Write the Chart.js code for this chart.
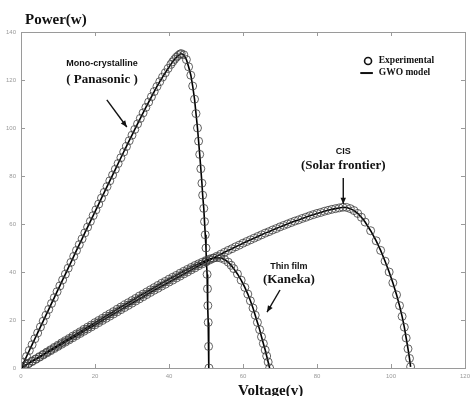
<!DOCTYPE html>
<html>
<head>
<meta charset="utf-8">
<script src="https://cdn.jsdelivr.net/npm/chart.js@4/dist/chart.umd.min.js"></script>
<style>
  body { margin: 0; background: #fff; }
  canvas { display: block; }
</style>
</head>
<body>
<canvas id="pvChart" width="475" height="396"></canvas>
<script>
// Voltage (V) / Power (W) points
const monoV = [0, 0.75, 1.5, 2.25, 3, 3.75, 4.5, 5.25, 6, 6.75, 7.5, 8.25, 9, 9.75, 10.5, 11.25, 12, 12.75, 13.5, 14.25, 15, 15.75, 16.5, 17.25, 18, 18.75, 19.5, 20.25, 21, 21.75, 22.5, 23.25, 24, 24.75, 25.5, 26.25, 27, 27.75, 28.5, 29.25, 30, 30.75, 31.5, 32.25, 33, 33.75, 34.5, 35.25, 36, 36.75, 37.5, 38.25, 39, 39.75, 40.5, 41, 41.5, 42, 42.5, 43, 43.3, 44, 44.7, 45.3, 45.9, 46.4, 46.9, 47.3, 47.7, 48, 48.3, 48.6, 48.9, 49.1, 49.4, 49.6, 49.8, 50, 50.1, 50.3, 50.4, 50.5, 50.6, 50.7, 50.8];
const monoP = [0, 2.4, 4.8, 7.3, 9.7, 12.2, 14.6, 17.1, 19.5, 22, 24.4, 26.9, 29.3, 31.8, 34.2, 36.7, 39.1, 41.6, 44, 46.5, 49, 51.4, 53.8, 56.3, 58.7, 61.1, 63.5, 65.9, 68.3, 70.8, 73.2, 75.6, 78, 80.4, 82.8, 85.2, 87.6, 90, 92.3, 94.7, 97, 99.4, 101.7, 104, 106.3, 108.6, 110.8, 113, 115.2, 117.3, 119.3, 121.2, 123, 124.8, 126.5, 127.6, 128.6, 129.5, 130.2, 130.8, 131, 130.5, 128.5, 125.5, 122, 117.5, 112, 106, 100, 94.5, 89, 83, 77, 72, 66.5, 61, 55.5, 50, 44.5, 39, 33, 26, 19, 9, 0];

const thinV = [0, 1, 2, 3, 4, 5, 6, 7, 8, 9, 10, 11, 12, 13, 14, 15, 16, 17, 18, 19, 20, 21, 22, 23, 24, 25, 26, 27, 28, 29, 30, 31, 32, 33, 34, 35, 36, 37, 38, 39, 40, 41, 42, 43, 44, 45, 46, 47, 48, 49, 50, 51, 52, 53, 54, 55, 56, 56.8, 57.5, 58.5, 59.5, 60.5, 61.3, 62, 62.7, 63.3, 63.9, 64.5, 65, 65.5, 66, 66.4, 66.8, 67.2];
const thinP = [0, 0.95, 1.9, 2.9, 3.8, 4.75, 5.7, 6.65, 7.6, 8.6, 9.5, 10.5, 11.4, 12.3, 13.3, 14.2, 15.1, 16.1, 17, 17.9, 18.9, 19.8, 20.7, 21.7, 22.6, 23.5, 24.5, 25.4, 26.3, 27.2, 28.1, 29, 30, 30.8, 31.7, 32.6, 33.5, 34.4, 35.3, 36.1, 37, 37.8, 38.6, 39.5, 40.3, 41.1, 41.9, 42.7, 43.4, 44.1, 44.8, 45.4, 45.8, 46, 45.8, 45.2, 44.1, 42.8, 41.4, 39.2, 36.6, 33.6, 30.8, 28, 25, 22, 19, 16, 13, 10.2, 7.5, 5, 2.5, 0];

const cisV = [0, 1, 2, 3, 4, 5, 6, 7, 8, 9, 10, 11, 12, 13, 14, 15, 16, 17, 18, 19, 20, 21, 22, 23, 24, 25, 26, 27, 28, 29, 30, 31, 32, 33, 34, 35, 36, 37, 38, 39, 40, 41, 42, 43, 44, 45, 46, 47, 48, 49, 50, 51, 52, 53, 54, 55, 56, 57, 58, 59, 60, 61, 62, 63, 64, 65, 66, 67, 68, 69, 70, 71, 72, 73, 74, 75, 76, 77, 78, 79, 80, 81, 82, 83, 84, 85, 86, 87, 88, 89, 90, 91, 92, 93, 94.5, 96, 97.2, 98.4, 99.5, 100.5, 101.5, 102.3, 103, 103.6, 104.1, 104.6, 105, 105.3];
const cisP = [0, 0.9, 1.8, 2.7, 3.6, 4.5, 5.4, 6.3, 7.2, 8.1, 9, 9.9, 10.8, 11.7, 12.6, 13.5, 14.4, 15.3, 16.2, 17.1, 18, 18.9, 19.8, 20.7, 21.6, 22.5, 23.4, 24.3, 25.2, 26.1, 27, 27.9, 28.8, 29.7, 30.6, 31.5, 32.4, 33.2, 34.1, 34.9, 35.8, 36.6, 37.5, 38.3, 39.2, 40, 40.9, 41.7, 42.6, 43.4, 44.2, 45, 45.8, 46.6, 47.4, 48.2, 49, 49.7, 50.5, 51.2, 52, 52.7, 53.4, 54.1, 54.8, 55.5, 56.2, 56.8, 57.5, 58.1, 58.8, 59.4, 60, 60.6, 61.2, 61.7, 62.3, 62.8, 63.4, 63.9, 64.4, 64.8, 65.3, 65.7, 66.1, 66.4, 66.7, 67, 66.9, 66.4, 65.6, 64.4, 62.8, 60.8, 57.2, 53, 49, 44.5, 40, 35.5, 30.5, 26, 21.5, 17, 12.5, 8, 4, 0.5];

const xTicks = [0, 20, 40, 60, 80, 100, 120];
const yTicks = [0, 20, 40, 60, 80, 100, 120, 140];

const toPts = (xs, ys) => xs.map((x, i) => ({ x: x, y: ys[i] }));

const expStyle = {
    showLine: false,
    pointStyle: 'circle',
    pointRadius: 4,
    pointBorderWidth: 1,
    pointBorderColor: 'rgba(60,60,60,0.8)',
    pointBackgroundColor: 'rgba(0,0,0,0)'
};
const modelStyle = {
    showLine: true,
    pointRadius: 0,
    borderColor: '#000',
    borderWidth: 1.6,
    tension: 0
};

// frame, inward ticks, titles, notes and legend
const decor = {
    id: 'decor',
    afterDraw(chart) {
        const { ctx, chartArea: a, scales: { x, y } } = chart;
        ctx.save();
        ctx.strokeStyle = '#9a9a9a';
        ctx.lineWidth = 1;
        ctx.strokeRect(a.left + 0.5, a.top + 0.5, a.right - a.left, a.bottom - a.top);
        ctx.beginPath();
        xTicks.forEach(v => {
            const px = Math.round(x.getPixelForValue(v)) + 0.5;
            ctx.moveTo(px, a.bottom); ctx.lineTo(px, a.bottom - 4);
            ctx.moveTo(px, a.top); ctx.lineTo(px, a.top + 4);
        });
        yTicks.forEach(v => {
            const py = Math.round(y.getPixelForValue(v)) + 0.5;
            ctx.moveTo(a.left, py); ctx.lineTo(a.left + 4, py);
            ctx.moveTo(a.right, py); ctx.lineTo(a.right - 4, py);
        });
        ctx.stroke();

        const X = v => x.getPixelForValue(v);
        const Y = v => y.getPixelForValue(v);
        ctx.fillStyle = '#111';
        ctx.textBaseline = 'alphabetic';
        ctx.textAlign = 'left';
        ctx.font = 'bold 15px "Liberation Serif", serif';
        ctx.fillText('Power(w)', 25, 24);
        ctx.fillText('Voltage(v)', 238, 395);

        ctx.textAlign = 'center';
        ctx.textBaseline = 'middle';
        const sans = 'bold 9px "Liberation Sans", Arial, sans-serif';
        const serif = 'bold 13px "Liberation Serif", serif';
        ctx.font = sans; ctx.fillText('Mono-crystalline', X(21.9), Y(127));
        ctx.font = serif; ctx.fillText('( Panasonic )', X(21.9), Y(120));
        ctx.font = sans; ctx.fillText('CIS', X(87.1), Y(90));
        ctx.font = serif; ctx.fillText('(Solar frontier)', X(87.1), Y(84.2));
        ctx.font = sans; ctx.fillText('Thin film', X(72.4), Y(42.1));
        ctx.font = serif; ctx.fillText('(Kaneka)', X(72.4), Y(36.7));

        const arrow = (x0, y0, x1, y1) => {
            const px0 = X(x0), py0 = Y(y0), px1 = X(x1), py1 = Y(y1);
            const ang = Math.atan2(py1 - py0, px1 - px0);
            ctx.strokeStyle = '#111';
            ctx.lineWidth = 1.4;
            ctx.beginPath(); ctx.moveTo(px0, py0); ctx.lineTo(px1, py1); ctx.stroke();
            ctx.beginPath();
            ctx.moveTo(px1, py1);
            ctx.lineTo(px1 - 7 * Math.cos(ang - 0.4), py1 - 7 * Math.sin(ang - 0.4));
            ctx.lineTo(px1 - 7 * Math.cos(ang + 0.4), py1 - 7 * Math.sin(ang + 0.4));
            ctx.closePath(); ctx.fillStyle = '#111'; ctx.fill();
        };
        arrow(23.2, 111.7, 28.6, 100.4);
        arrow(87.1, 79.2, 87.1, 68.3);
        arrow(70, 32.5, 66.5, 23.3);

        // legend
        ctx.strokeStyle = '#111';
        ctx.lineWidth = 1.6;
        ctx.beginPath(); ctx.arc(X(93.8), Y(127.9), 3.5, 0, Math.PI * 2); ctx.stroke();
        ctx.lineWidth = 2;
        ctx.beginPath(); ctx.moveTo(X(91.7), Y(122.9)); ctx.lineTo(X(95.1), Y(122.9)); ctx.stroke();
        ctx.textAlign = 'left';
        ctx.font = 'bold 9.5px "Liberation Serif", serif';
        ctx.fillStyle = '#111';
        ctx.fillText('Experimental', X(96.7), Y(127.9));
        ctx.fillText('GWO model', X(96.7), Y(122.9));
        ctx.restore();
    }
};

const ctx = document.getElementById('pvChart').getContext('2d');
new Chart(ctx, {
    type: 'scatter',
    data: {
        datasets: [
            Object.assign({ label: 'Mono exp', data: toPts(monoV, monoP) }, expStyle),
            Object.assign({ label: 'Thin exp', data: toPts(thinV, thinP) }, expStyle),
            Object.assign({ label: 'CIS exp', data: toPts(cisV, cisP) }, expStyle),
            Object.assign({ label: 'Mono GWO', data: toPts(monoV, monoP) }, modelStyle),
            Object.assign({ label: 'Thin GWO', data: toPts(thinV, thinP) }, modelStyle),
            Object.assign({ label: 'CIS GWO', data: toPts(cisV, cisP) }, modelStyle)
        ]
    },
    options: {
        responsive: false,
        animation: false,
        layout: { padding: { top: 32, right: 5, left: 0, bottom: 0 } },
        plugins: { legend: { display: false }, tooltip: { enabled: false } },
        scales: {
            x: {
                type: 'linear', min: 0, max: 120,
                afterFit: s => { s.height = 28; },
                afterBuildTicks: s => { s.ticks = xTicks.map(v => ({ value: v })); },
                grid: { display: false, drawTicks: false },
                border: { display: false },
                ticks: { color: '#999', padding: 5, font: { size: 6, family: 'Liberation Sans' } }
            },
            y: {
                type: 'linear', min: 0, max: 140,
                afterFit: s => { s.width = 21; },
                afterBuildTicks: s => { s.ticks = yTicks.map(v => ({ value: v })); },
                grid: { display: false, drawTicks: false },
                border: { display: false },
                ticks: { color: '#999', padding: 5, font: { size: 6, family: 'Liberation Sans' } }
            }
        }
    },
    plugins: [decor]
});
</script>
</body>
</html>
